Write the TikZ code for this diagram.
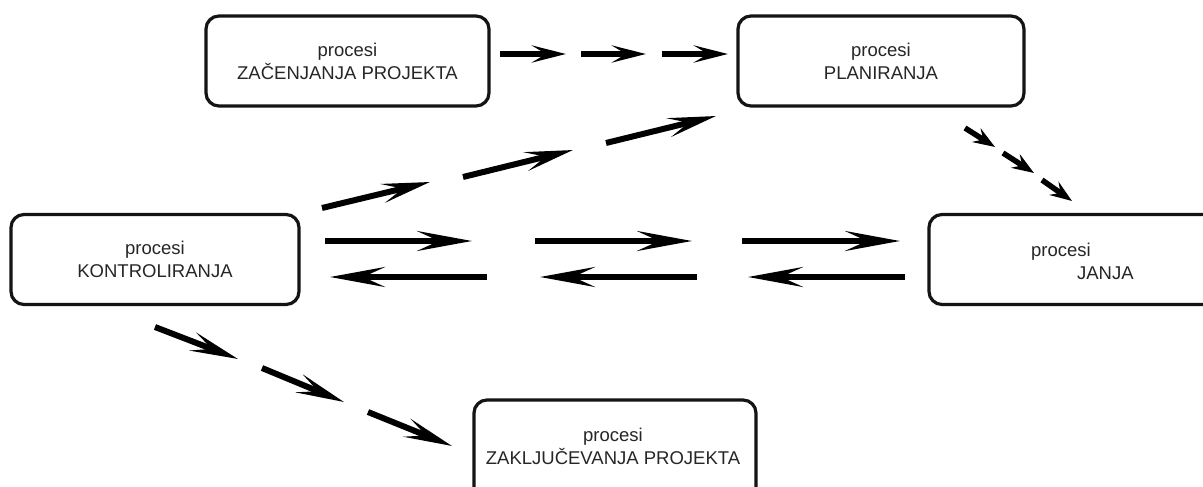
\documentclass[tikz,border=0pt]{standalone}
\usepackage{fontspec}
\setmainfont{Liberation Sans}
\usetikzlibrary{arrows.meta}
\begin{document}
\begin{tikzpicture}[x=1pt,y=-1pt,
  box/.style={draw=black!92, line width=3.2pt, rounded corners=13pt,
    minimum width=#1, minimum height=90pt, align=center, inner sep=0pt,
    font=\fontsize{18.5}{23}\selectfont, text=black!85},
  boxtext/.style={align=center, inner sep=0pt,
    font=\fontsize{18.5}{23}\selectfont, text=black!85},
  bigarrow/.style={line width=6pt, -{Stealth[length=55pt,width=20pt,inset=22pt]}},
  diagarrow/.style={line width=6pt, -{Stealth[length=48pt,width=19pt,inset=20pt]}},
  midarrow/.style={line width=5.5pt, -{Stealth[length=34pt,width=17pt,inset=14pt]}},
  smallarrow/.style={line width=5.5pt, -{Stealth[length=22pt,width=16pt,inset=8pt]}}]
\useasboundingbox (0,0) rectangle (1203,487);
\fill[white] (0,0) rectangle (1203,487);
\clip (0,0) rectangle (1203,487);

% boxes
\node[box=283pt] (zac) at (347.5,61) {procesi\\ZAČENJANJA PROJEKTA};
\node[box=286pt] (plan) at (881,61) {procesi\\PLANIRANJA};
\node[box=288pt] (kon) at (155,259.5) {procesi\\KONTROLIRANJA};
\node[box=292pt] (izv) at (1075,259.5) {};
\node[boxtext] (izvt) at (1061,261) {procesi\\\phantom{IZVRŠAVA}JANJA};
\node[box=282pt, minimum height=100pt] (zak) at (615,450) {};
\node[boxtext] (zakt) at (613,446) {procesi\\ZAKLJUČEVANJA PROJEKTA};

% ZAČENJANJA -> PLANIRANJA
\coordinate (a1) at (500,54); \coordinate (a2) at (566,54);
\coordinate (a3) at (581,54); \coordinate (a4) at (646,54);
\coordinate (a5) at (662,54); \coordinate (a6) at (728,54);
\draw[midarrow] (a1) -- (a2);
\draw[midarrow] (a3) -- (a4);
\draw[midarrow] (a5) -- (a6);

% PLANIRANJA -> IZVRŠAVANJA
\coordinate (b1) at (965,128); \coordinate (b2) at (995,147);
\coordinate (b3) at (1003,153); \coordinate (b4) at (1034,173);
\coordinate (b5) at (1042,180); \coordinate (b6) at (1072,201);
\draw[smallarrow] (b1) -- (b2);
\draw[smallarrow] (b3) -- (b4);
\draw[smallarrow] (b5) -- (b6);

% KONTROLIRANJA -> PLANIRANJA
\coordinate (c1) at (322,208); \coordinate (c2) at (430,182);
\coordinate (c3) at (463,177); \coordinate (c4) at (573,150);
\coordinate (c5) at (606,143); \coordinate (c6) at (716,116);
\draw[diagarrow] (c1) -- (c2);
\draw[diagarrow] (c3) -- (c4);
\draw[diagarrow] (c5) -- (c6);

% KONTROLIRANJA -> IZVRŠAVANJA
\coordinate (d1) at (325,241); \coordinate (d2) at (472,241);
\coordinate (d3) at (535,241); \coordinate (d4) at (692,241);
\coordinate (d5) at (742,241); \coordinate (d6) at (900,241);
\draw[bigarrow] (d1) -- (d2);
\draw[bigarrow] (d3) -- (d4);
\draw[bigarrow] (d5) -- (d6);

% IZVRŠAVANJA -> KONTROLIRANJA
\coordinate (e1) at (905,277); \coordinate (e2) at (330,277);
\coordinate (e3) at (697,277); \coordinate (e4) at (540,277);
\coordinate (e5) at (487,277); \coordinate (e6) at (748,277);
\draw[bigarrow] (e1) -- (e6);
\draw[bigarrow] (e3) -- (e4);
\draw[bigarrow] (e5) -- (e2);

% KONTROLIRANJA -> ZAKLJUČEVANJA
\coordinate (f1) at (155,327); \coordinate (f2) at (238,359);
\coordinate (f3) at (262,368); \coordinate (f4) at (344,402);
\coordinate (f5) at (368,412); \coordinate (f6) at (452,446);
\draw[diagarrow] (f1) -- (f2);
\draw[diagarrow] (f3) -- (f4);
\draw[diagarrow] (f5) -- (f6);
\end{tikzpicture}
\end{document}
